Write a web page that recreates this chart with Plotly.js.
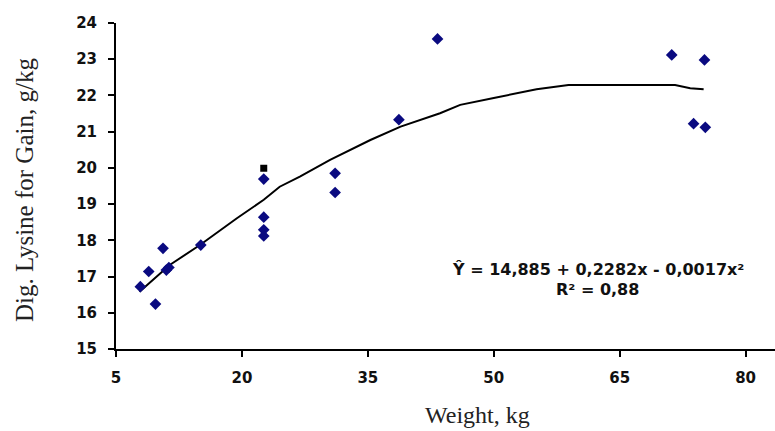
<!DOCTYPE html>
<html>
<head>
<meta charset="utf-8">
<script src="https://cdn.plot.ly/plotly-3.0.1.min.js"></script>
<style>html,body{margin:0;padding:0;background:#fff;}#chart{width:775px;height:431px;}</style>
</head>
<body>
<div id="chart"></div>
<script>
// Observed data points (diamonds)
var weight = [7.9, 8.9, 9.7, 10.6, 11.0, 11.3, 15.1, 22.6, 22.6, 22.6, 22.6, 31.1, 31.1, 38.7, 43.3, 71.2, 75.1, 73.8, 75.2];
var lysine = [16.72, 17.14, 16.24, 17.78, 17.18, 17.25, 17.87, 19.69, 18.64, 18.29, 18.12, 19.85, 19.32, 21.33, 23.56, 23.12, 22.98, 21.22, 21.12];
// Single black square point
var squareWeight = [22.6];
var squareLysine = [19.99];
// Trend line as drawn in the picture
var fitWeight = [7.8, 11.4, 15.0, 19.4, 22.6, 24.5, 26.9, 30.5, 35.3, 38.9, 43.6, 46.0, 50.0, 52.8, 55.1, 58.9, 65.0, 71.6, 73.4, 75.0];
var fitLysine = [16.58, 17.32, 17.87, 18.61, 19.12, 19.48, 19.76, 20.22, 20.77, 21.14, 21.51, 21.74, 21.93, 22.06, 22.17, 22.29, 22.29, 22.29, 22.20, 22.17];
// Axis ticks
var xTicks = [5, 20, 35, 50, 65, 80];
var yTicks = [15, 16, 17, 18, 19, 20, 21, 22, 23, 24];

var tickFont = {family: 'DejaVu Sans', size: 15, color: '#111', weight: 'bold'};

var traces = [
  {x: fitWeight, y: fitLysine, mode: 'lines', type: 'scatter',
   line: {color: '#000', width: 2}, hoverinfo: 'skip', showlegend: false},
  {x: weight, y: lysine, mode: 'markers', type: 'scatter',
   marker: {symbol: 'diamond', size: 9, color: '#0a0a80'}, showlegend: false},
  {x: squareWeight, y: squareLysine, mode: 'markers', type: 'scatter',
   marker: {symbol: 'square', size: 7, color: '#000'}, showlegend: false}
];

var layout = {
  width: 775, height: 431,
  margin: {l: 116, r: 0, t: 23, b: 82},
  paper_bgcolor: '#fff', plot_bgcolor: '#fff',
  showlegend: false,
  xaxis: {
    range: [5, 83.5], tickvals: xTicks, ticktext: xTicks.map(String),
    showgrid: false, zeroline: false, showline: true, linecolor: '#000', linewidth: 2,
    ticks: 'outside', ticklen: 6, tickwidth: 2, tickcolor: '#000',
    tickfont: tickFont, ticklabelstandoff: 8
  },
  yaxis: {
    range: [15, 24], tickvals: yTicks, ticktext: yTicks.map(String),
    showgrid: false, zeroline: false, showline: true, linecolor: '#000', linewidth: 2,
    ticks: 'outside', ticklen: 6, tickwidth: 2, tickcolor: '#000',
    tickfont: tickFont, ticklabelstandoff: 8
  },
  annotations: [
    {text: 'Weight, kg', xref: 'paper', yref: 'paper', x: 0.549, y: -0.203,
     xanchor: 'center', yanchor: 'middle', showarrow: false,
     font: {family: 'Liberation Serif', size: 24, color: '#222'}},
    {text: 'Dig. Lysine for Gain, g/kg', xref: 'paper', yref: 'paper', x: -0.138, y: 0.488,
     xanchor: 'center', yanchor: 'middle', textangle: -90, showarrow: false,
     font: {family: 'Liberation Serif', size: 25, color: '#222'}},
    {text: 'Ŷ = 14,885 + 0,2282x - 0,0017x²', xref: 'paper', yref: 'paper', x: 0.731, y: 0.245,
     xanchor: 'center', yanchor: 'middle', showarrow: false,
     font: {family: 'DejaVu Sans', size: 16, color: '#111', weight: 'bold'}},
    {text: 'R² = 0,88', xref: 'paper', yref: 'paper', x: 0.731, y: 0.184,
     xanchor: 'center', yanchor: 'middle', showarrow: false,
     font: {family: 'DejaVu Sans', size: 16, color: '#111', weight: 'bold'}}
  ]
};

Plotly.newPlot('chart', traces, layout, {displayModeBar: false, staticPlot: true});
</script>
</body>
</html>
